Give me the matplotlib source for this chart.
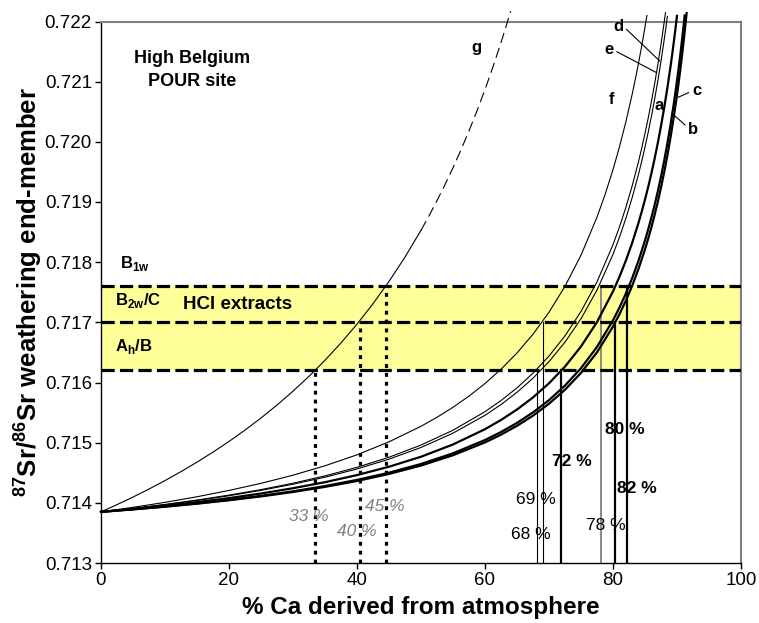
import matplotlib
matplotlib.use('Agg')
import matplotlib.pyplot as plt

plt.rcParams['font.family'] = ['Liberation Sans', 'DejaVu Sans']
plt.rcParams['mathtext.fontset'] = 'custom'
plt.rcParams['mathtext.rm'] = 'Liberation Sans'
plt.rcParams['mathtext.bf'] = 'Liberation Sans:bold'
plt.rcParams['lines.scale_dashes'] = False

# ---------------- data ----------------
a_x = [0, 5, 10, 15, 20, 25, 30, 35, 40, 45, 50, 55, 60, 62.5, 65, 67.5, 70, 72.5, 75, 77.5, 80, 81, 82, 83,
       84, 84.5, 85, 85.5, 86, 86.5, 87, 87.5, 88, 88.5, 89, 89.25, 89.5, 89.75, 90]
a_y = [0.71385, 0.713898, 0.713952, 0.714012, 0.714079, 0.714155, 0.714243, 0.714343, 0.714461, 0.7146,
       0.714766, 0.71497, 0.715224, 0.715377, 0.715551, 0.715752, 0.715987, 0.716265, 0.716598, 0.717005,
       0.717514, 0.717755, 0.718023, 0.718322, 0.718659, 0.718844, 0.719041, 0.719251, 0.719477, 0.719719,
       0.71998, 0.720262, 0.720567, 0.720899, 0.721261, 0.721455, 0.721658, 0.721871, 0.722094]

b_x = [0, 5, 10, 15, 20, 25, 30, 35, 40, 45, 50, 55, 60, 62.5, 65, 67.5, 70, 72.5, 75, 77.5, 80, 81, 82, 83,
       84, 85, 85.5, 86, 86.5, 87, 87.5, 88, 88.5, 89, 89.5, 90, 90.25, 90.5, 90.75, 91, 91.2]
b_y = [0.71385, 0.713892, 0.713938, 0.71399, 0.714049, 0.714115, 0.714191, 0.714279, 0.714381, 0.714501,
       0.714646, 0.714823, 0.715044, 0.715177, 0.715328, 0.715503, 0.715707, 0.715949, 0.716238, 0.716592,
       0.717034, 0.717243, 0.717476, 0.717736, 0.718029, 0.718361, 0.718544, 0.71874, 0.71895, 0.719177,
       0.719422, 0.719687, 0.719976, 0.72029, 0.720635, 0.721014, 0.721218, 0.721433, 0.72166, 0.721898, 0.7221]

c_x = [0, 5, 10, 15, 20, 25, 30, 35, 40, 45, 50, 55, 60, 62.5, 65, 67.5, 70, 72.5, 75, 77.5, 80, 81, 82, 83,
       84, 85, 85.5, 86, 86.5, 87, 87.5, 88, 88.5, 89, 89.5, 90, 90.25, 90.5, 90.75, 91, 91.25, 91.5]
c_y = [0.71385, 0.713891, 0.713936, 0.713986, 0.714043, 0.714107, 0.71418, 0.714265, 0.714363, 0.71448,
       0.71462, 0.714791, 0.715005, 0.715133, 0.71528, 0.715449, 0.715647, 0.71588, 0.71616, 0.716502,
       0.71693, 0.717133, 0.717358, 0.717609, 0.717893, 0.718213, 0.71839, 0.71858, 0.718784, 0.719003,
       0.71924, 0.719497, 0.719776, 0.72008, 0.720413, 0.72078, 0.720977, 0.721185, 0.721404, 0.721636,
       0.72188, 0.722139]

d_x = [0, 5, 10, 15, 20, 25, 30, 35, 40, 45, 50, 55, 60, 62.5, 65, 67.5, 70, 72.5, 75, 77.5, 80, 81, 82, 83,
       84, 84.5, 85, 85.5, 86, 86.5, 87, 87.5, 88, 88.25, 88.5]
d_y = [0.71385, 0.713906, 0.713969, 0.714039, 0.714118, 0.714207, 0.714309, 0.714426, 0.714563, 0.714726,
       0.71492, 0.715158, 0.715455, 0.715633, 0.715837, 0.716072, 0.716347, 0.716671, 0.71706, 0.717536,
       0.71813, 0.718412, 0.718724, 0.719074, 0.719468, 0.719683, 0.719913, 0.720159, 0.720423, 0.720706,
       0.721011, 0.72134, 0.721697, 0.721886, 0.722084]

e_x = [0, 5, 10, 15, 20, 25, 30, 35, 40, 45, 50, 55, 60, 62.5, 65, 67.5, 70, 72.5, 75, 77.5, 80, 81, 82, 83,
       84, 84.5, 85, 85.5, 86, 86.5, 87, 87.5, 88, 88.2]
e_y = [0.71385, 0.713908, 0.713973, 0.714046, 0.714128, 0.71422, 0.714326, 0.714448, 0.71459, 0.714758,
       0.71496, 0.715207, 0.715515, 0.7157, 0.715911, 0.716155, 0.71644, 0.716776, 0.71718, 0.717673,
       0.71829, 0.718582, 0.718907, 0.719269, 0.719678, 0.719901, 0.72014, 0.720395, 0.720669, 0.720962,
       0.721279, 0.72162, 0.72199, 0.722147]

f_x = [0, 5, 10, 15, 20, 25, 30, 35, 40, 45, 50, 52.5, 55, 57.5, 60, 62.5, 65, 67.5, 70, 72.5, 75, 77.5,
       78.75, 80, 81, 82, 83, 83.5, 84, 84.5, 85, 85.3]
f_y = [0.71385, 0.713925, 0.714008, 0.714101, 0.714206, 0.714324, 0.714459, 0.714616, 0.714798, 0.715014,
       0.715272, 0.715422, 0.715588, 0.715774, 0.715983, 0.71622, 0.716491, 0.716803, 0.717168, 0.717599,
       0.718116, 0.718748, 0.71912, 0.719538, 0.719912, 0.720328, 0.720793, 0.721046, 0.721316, 0.721602,
       0.721908, 0.722101]

g_solid_x = [0, 2.5, 5, 7.5, 10, 12.5, 15, 17.5, 20, 22.5, 25, 27.5, 30, 32.5, 35, 37.5, 40, 42.5, 45, 47.5, 50]
g_solid_y = [0.71385, 0.71397, 0.714096, 0.714229, 0.71437, 0.714519, 0.714676, 0.714843, 0.71502, 0.715209,
             0.71541, 0.715625, 0.715856, 0.716103, 0.71637, 0.716658, 0.71697, 0.717309, 0.717679, 0.718084,
             0.71853]
g_dash_x = [50, 51.25, 52.5, 53.75, 55, 56.25, 57.5, 58.75, 60, 61.25, 62.5, 63.25, 64]
g_dash_y = [0.71853, 0.71877, 0.719023, 0.719289, 0.71957, 0.719867, 0.720182, 0.720515, 0.72087, 0.721247,
            0.72165, 0.721905, 0.72217]

# HCl extract levels (horizons)
levels = [0.7176, 0.7170, 0.7162]
level_names = [r'B$_{\mathbf{2w}}$/C', r'A$_{\mathbf{h}}$/B']

# drop lines: x position and level reached
dot_x = [33.4, 40.5, 44.6]
dot_top = [0.7162, 0.7170, 0.7176]
dot_labels = ['33 %', '40 %', '45 %']
solid_x = [68.2, 69.0, 71.8, 78.1, 80.3, 82.2]
solid_top = [0.7162, 0.7170, 0.7162, 0.7176, 0.7170, 0.7176]
solid_labels = ['68 %', '69 %', '72 %', '78 %', '80 %', '82 %']

x_ticks = [0, 20, 40, 60, 80, 100]
y_ticks = [0.713, 0.714, 0.715, 0.716, 0.717, 0.718, 0.719, 0.720, 0.721, 0.722]

# ---------------- figure ----------------
fig = plt.figure(figsize=(7.59, 6.23), dpi=100)
ax = fig.add_axes([101 / 759, 60 / 623, 640 / 759, 541.5 / 623])
ax.set_xlim(0, 100)
ax.set_ylim(0.713, 0.722)

ax.axhspan(levels[2], levels[0], color='#FFFF99', zorder=0, lw=0)
for lv in levels:
    ax.axhline(lv, color='black', lw=2.3, dashes=(9.5, 3.8), zorder=3)

# drop lines
dot_styles = dict(color='black', lw=2.3, dashes=(2.8, 3.6), zorder=2)
for xv, top in zip(dot_x, dot_top):
    ax.plot([xv, xv], [0.713, top], **dot_styles)
solid_colors = ['black', 'black', 'black', '#808080', 'black', 'black']
solid_widths = [0.8, 0.8, 1.6, 1.3, 1.6, 1.6]
for xv, top, col, w in zip(solid_x, solid_top, solid_colors, solid_widths):
    ax.plot([xv, xv], [0.713, top], color=col, lw=w, zorder=2)

# curves
thin = 0.8
thick = 1.6
ax.plot(a_x, a_y, color='black', lw=thick, clip_on=False, zorder=4)
ax.plot(b_x, b_y, color='black', lw=thick, clip_on=False, zorder=4)
ax.plot(c_x, c_y, color='black', lw=thick, clip_on=False, zorder=4)
ax.plot(d_x, d_y, color='black', lw=thin, clip_on=False, zorder=4)
ax.plot(e_x, e_y, color='black', lw=thin, clip_on=False, zorder=4)
ax.plot(f_x, f_y, color='black', lw=thin, clip_on=False, zorder=4)
ax.plot(g_solid_x, g_solid_y, color='black', lw=thin, clip_on=False, zorder=4)
ax.plot(g_dash_x, g_dash_y, color='black', lw=thin, dashes=(7.5, 3.8), clip_on=False, zorder=4)

# curve letters and pointers
lab_kw = dict(fontsize=12, fontweight='bold', ha='center', va='center', zorder=5)
ax.text(58.6, 0.72156, 'g', **lab_kw)
ax.text(79.7, 0.72071, 'f', **lab_kw)
ax.text(87.2, 0.72060, 'a', **lab_kw)
ax.text(80.8, 0.72191, 'd', **lab_kw)
ax.text(79.4, 0.72154, 'e', **lab_kw)
ax.text(93.1, 0.72086, 'c', **lab_kw)
ax.text(92.5, 0.72020, 'b', **lab_kw)
ax.plot([82.1, 87.3], [0.72187, 0.721344], color='black', lw=0.8, zorder=5)
ax.plot([80.6, 86.8], [0.721498, 0.72115], color='black', lw=0.8, zorder=5)
ax.plot([91.8, 90.2], [0.720817, 0.720741], color='black', lw=0.8, zorder=5)
ax.plot([91.25, 89.2], [0.720281, 0.720475], color='black', lw=0.8, zorder=5)

# region texts
ax.text(14.2, 0.72139, 'High Belgium', fontsize=13, fontweight='bold', ha='center', va='center')
ax.text(14.2, 0.72101, 'POUR site', fontsize=13, fontweight='bold', ha='center', va='center')
ax.text(12.8, 0.71729, 'HCl extracts', fontsize=13.5, fontweight='bold', ha='left', va='center', zorder=5)
ax.text(3.0, 0.71798, r'B$_{\mathbf{1w}}$', fontsize=12, fontweight='bold', ha='left', va='center')
ax.text(2.2, 0.71736, level_names[0], fontsize=12, fontweight='bold', ha='left', va='center', zorder=5)
ax.text(2.2, 0.71660, level_names[1], fontsize=12, fontweight='bold', ha='left', va='center', zorder=5)

# percentage labels
dot_pos = [(32.5, 0.713774), (39.9, 0.713525), (44.4, 0.713940)]
for (px, py), t in zip(dot_pos, dot_labels):
    ax.text(px, py, t, fontsize=12.5, color='#808080', style='italic', ha='center', va='center', zorder=5)
solid_pos = [(67.2, 0.713470), (67.9, 0.714052), (73.5, 0.714688), (78.9, 0.713620), (81.9, 0.715226), (83.7, 0.714246)]
solid_weight = ['normal', 'normal', 'bold', 'normal', 'bold', 'bold']
for (px, py), t, wt in zip(solid_pos, solid_labels, solid_weight):
    ax.text(px, py, t, fontsize=12.5, color='black', fontweight=wt, ha='center', va='center', zorder=5)

# axes styling
for s in ['left', 'bottom']:
    ax.spines[s].set_color('black')
    ax.spines[s].set_linewidth(1.0)
for s in ['top', 'right']:
    ax.spines[s].set_color('#808080')
    ax.spines[s].set_linewidth(1.5)
ax.set_xticks(x_ticks)
ax.set_yticks(y_ticks)
ax.set_yticklabels(['%.3f' % v for v in y_ticks])
ax.tick_params(direction='out', length=4.5, width=1, labelsize=13.5, top=False, right=False, pad=2)

ax.set_xlabel('% Ca derived from atmosphere', fontsize=17.5, fontweight='bold', labelpad=5)
ax.set_ylabel(r'$\mathbf{^{87}}$Sr/$\mathbf{^{86}}$Sr weathering end-member', fontsize=18.5,
              fontweight='bold', labelpad=0)

fig.savefig('out.png', dpi=100)
